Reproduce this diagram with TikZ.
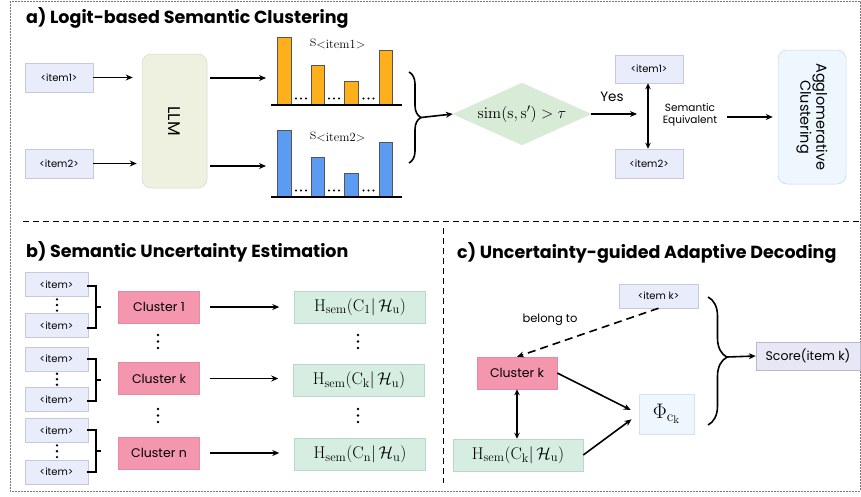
\RequirePackage{fix-cm}
\documentclass[tikz,border=0pt]{standalone}
\usepackage[no-math]{fontspec}
\setmainfont{Poppins}
\DeclareMathSizes{16}{16}{12}{9}
\DeclareMathSizes{17}{17}{12.5}{9.5}
\DeclareMathSizes{21}{21}{15}{11}
\usetikzlibrary{arrows.meta,shapes.geometric,decorations.pathreplacing}
\definecolor{itemfill}{HTML}{E9ECFB}
\definecolor{itemline}{HTML}{C6C9DC}
\definecolor{llmfill}{HTML}{EEF1DF}
\definecolor{llmline}{HTML}{D5D9C6}
\definecolor{orangebar}{HTML}{FDB01B}
\definecolor{bluebar}{HTML}{5B9CF2}
\definecolor{barline}{HTML}{555555}
\definecolor{diafill}{HTML}{D7EBD7}
\definecolor{aggfill}{HTML}{EEF7FE}
\definecolor{aggline}{HTML}{C8D6E2}
\definecolor{clfill}{HTML}{F396AE}
\definecolor{clline}{HTML}{E68AA2}
\definecolor{hfill}{HTML}{D5EEE1}
\definecolor{hline}{HTML}{BAD6C7}
\definecolor{phifill}{HTML}{EFF7FE}
\definecolor{philine}{HTML}{D5E2EE}
\definecolor{scorefill}{HTML}{E7E7F5}
\definecolor{scoreline}{HTML}{B9B9CC}
\definecolor{framegray}{HTML}{777777}
\begin{document}
\begin{tikzpicture}[x=1pt,y=-1pt,
  arr/.style={-{Stealth[length=7pt,width=6pt]},line width=1.6pt},
  darr/.style={{Stealth[length=6pt,width=5.5pt]}-{Stealth[length=6pt,width=5.5pt]},line width=1.4pt},
  itembox/.style={draw=itemline,fill=itemfill,line width=0.5pt,inner sep=0pt,font=\fontsize{10}{11}\selectfont},
  clbox/.style={draw=clline,fill=clfill,line width=0.5pt,minimum width=81pt,minimum height=32pt,inner sep=0pt,font=\fontsize{12.5}{14}\selectfont},
  hbox/.style={draw=hline,fill=hfill,line width=0.5pt,minimum width=131pt,minimum height=32pt,inner sep=0pt,font=\fontsize{17}{19}\selectfont},
  titletext/.style={anchor=west,font=\fontsize{17.5}{19}\selectfont\bfseries,inner sep=0pt},
  bracestyle/.style={line width=1.6pt,decorate},
  sepline/.style={line width=1pt,dash pattern=on 6pt off 4pt},
  bracket/.style={line width=1.3pt},
]
\useasboundingbox (0,0) rectangle (861,496);
% frame and separators
\draw[framegray,line width=0.6pt,dash pattern=on 2pt off 1pt] (10,1) rectangle (860,491);
\draw[sepline] (23,221) -- (860,221);
\draw[sepline] (443,228) -- (443,483);

% ---------- a)
\node[titletext] (ta) at (26,18) {a) Logit-based Semantic Clustering};
\node[itembox,minimum width=68pt,minimum height=29pt] (i1) at (59,77.5) {<item1>};
\node[itembox,minimum width=68pt,minimum height=29pt] (i2) at (59,163.5) {<item2>};
\node[draw=llmline,fill=llmfill,rounded corners=9pt,minimum width=65pt,minimum height=134pt,line width=0.5pt] (llm) at (174.5,121) {};
\node[rotate=-90,font=\fontsize{17}{19}\selectfont] at (llm) {LLM};
\draw[arr,shorten >=9pt] (i1.east) -- (i1.east -| llm.west);
\draw[arr,shorten >=5pt] (i2.east) -- (i2.east -| llm.west);
\coordinate (ca) at (266,78);
\coordinate (cb) at (266,166);
\draw[arr,shorten <=3pt] (llm.east |- ca) -- (ca);
\draw[arr,shorten <=3pt] (llm.east |- cb) -- (cb);
% bar charts
\foreach \xa/\xb/\t in {277/291/37, 311/324/65, 344/358/81, 379/392/50}
  \filldraw[fill=orangebar,draw=barline,line width=0.6pt] (\xa,105) rectangle (\xb,\t);
\foreach \xa/\xb/\t in {277/291/130, 311/324/157, 344/358/173, 379/392/142}
  \filldraw[fill=bluebar,draw=barline,line width=0.6pt] (\xa,197) rectangle (\xb,\t);
\draw[line width=2pt] (271,105) -- (402,105);
\draw[line width=2pt] (271,197) -- (402,197);
\foreach \cx in {301,334,368.5} \foreach \d in {-5,0,5} {
  \fill (\cx+\d,98.5) circle (1.1);
  \fill (\cx+\d,190.5) circle (1.1);
}
\node[font=\fontsize{17}{19}\selectfont] (sa) at (338,44) {$\mathrm{s}_{<\mathrm{item1}>}$};
\node[font=\fontsize{17}{19}\selectfont] (sb) at (338,137) {$\mathrm{s}_{<\mathrm{item2}>}$};
% brace and decision
\draw[bracestyle,decoration={brace,amplitude=12pt,aspect=0.5}] (409,72) -- (409,163);
\coordinate (bta) at (421,117.5);
\node[diamond,aspect=2.2,draw=diafill,fill=diafill,minimum width=138pt,minimum height=62pt,inner sep=0pt,font=\fontsize{16}{18}\selectfont] (dia) at (522,114) {$\mathrm{sim}(\mathrm{s},\mathrm{s}')>\tau$};
\draw[arr] (bta) -- (dia.west);
\node[itembox,minimum width=68pt,minimum height=28pt] (r1) at (649,69) {<item1>};
\node[itembox,minimum width=68pt,minimum height=29pt] (r2) at (649,163.5) {<item2>};
\coordinate (yesend) at (637,114);
\draw[arr] (dia.east) -- (yesend);
\node[font=\fontsize{13.5}{15}\selectfont] (yes) at (612,97) {Yes};
\draw[darr] (r1.south -| 648,0) -- (r2.north -| 648,0);
\node[align=center,font=\fontsize{10.5}{12}\selectfont,inner sep=0pt] (seq) at (690,115) {Semantic\\Equivalent};
\node[draw=aggline,fill=aggfill,rounded corners=9pt,minimum width=68pt,minimum height=134pt,line width=0.5pt] (agg) at (812,117) {};
\node[rotate=-90,align=center,font=\fontsize{14.5}{16}\selectfont,inner sep=0pt] at (agg) {Agglomerative\\Clustering};
\draw[arr,shorten <=10pt,shorten >=5pt] (seq.east |- agg.west) -- (agg.west);

% ---------- b)
\node[titletext] (tb) at (26,252) {b) Semantic Uncertainty Estimation};
\foreach \n/\ya/\yb/\bt/\bb in {1/284.5/325.5/286/328, 2/359/399.5/359/401, 3/430.5/472/430/472} {
  \node[itembox,minimum width=63pt,minimum height=24pt] (bi\n a) at (56.5,\ya) {<item>};
  \node[itembox,minimum width=63pt,minimum height=24pt] (bi\n b) at (56.5,\yb) {<item>};
  \foreach \k in {0,1,2} \fill (57,{(\ya+12)+(\yb-\ya-24)*(\k+0.5)/3}) circle (1.3);
  \draw[bracket] (87,\bt) -- (96,\bt) -- (96,\bb) -- (87,\bb);
  \draw[bracket] (96,{(\bt+\bb)/2}) -- (100.5,{(\bt+\bb)/2});
}
\node[clbox] (c1) at (159,307) {Cluster 1};
\node[clbox] (ck) at (159,378.5) {Cluster k};
\node[clbox] (cn) at (159,453) {Cluster n};
\node[hbox] (h1) at (360,307) {$\mathrm{H}_{\mathrm{sem}}(\mathrm{C}_{1}|\,\mathcal{H}_{\mathrm{u}})$};
\node[hbox] (hk) at (359,380.5) {$\mathrm{H}_{\mathrm{sem}}(\mathrm{C}_{\mathrm{k}}|\,\mathcal{H}_{\mathrm{u}})$};
\node[hbox] (hn) at (360,454.5) {$\mathrm{H}_{\mathrm{sem}}(\mathrm{C}_{\mathrm{n}}|\,\mathcal{H}_{\mathrm{u}})$};
\draw[arr,shorten <=10pt,shorten >=15pt] (c1.east) -- (c1.east -| h1.west);
\draw[arr,shorten <=10pt,shorten >=15pt] (ck.east) -- (ck.east -| hk.west);
\draw[arr,shorten <=10pt,shorten >=15pt] (cn.east) -- (cn.east -| hn.west);
\foreach \yy in {335,341.5,348, 409,415.5,422} {
  \fill (158,\yy) circle (1.4);
  \fill (358,\yy) circle (1.4);
}

% ---------- c)
\node[titletext] (tc) at (457,253) {c) Uncertainty-guided Adaptive Decoding};
\node[itembox,minimum width=79pt,minimum height=24pt] (ik) at (658.5,296) {<item k>};
\node[clbox,minimum width=80pt] (cck) at (517,373) {Cluster k};
\node[hbox,minimum width=130pt] (hck) at (518,455) {$\mathrm{H}_{\mathrm{sem}}(\mathrm{C}_{\mathrm{k}}|\,\mathcal{H}_{\mathrm{u}})$};
\node[draw=philine,fill=phifill,line width=0.5pt,minimum width=55pt,minimum height=40pt,inner sep=0pt,font=\fontsize{21}{23}\selectfont] (phi) at (666.5,414) {$\Phi_{\mathrm{c}_{\mathrm{k}}}$};
\node[draw=scoreline,fill=scorefill,line width=0.5pt,minimum width=104pt,minimum height=28pt,inner sep=0pt,font=\fontsize{12.5}{14}\selectfont] (score) at (808,356) {Score(item k)};
\draw[-{Stealth[length=7pt,width=6pt]},line width=1.6pt,dash pattern=on 8pt off 5pt] (ik.south) -- (cck.north);
\node[font=\fontsize{11.5}{13}\selectfont] (bel) at (550,320) {belong to};
\draw[darr] (cck.south) -- (cck.south |- hck.north);
\draw[arr,shorten >=9pt] (cck.east) -- (phi.west);
\draw[arr,shorten >=9pt] (hck.east) -- (phi.west);
\draw[bracestyle,decoration={brace,amplitude=19pt,aspect=0.47}] (708,297) -- (708,425);
\coordinate (btc) at (727,357);
\draw[arr] (btc) -- (score.west);
\end{tikzpicture}
\end{document}
